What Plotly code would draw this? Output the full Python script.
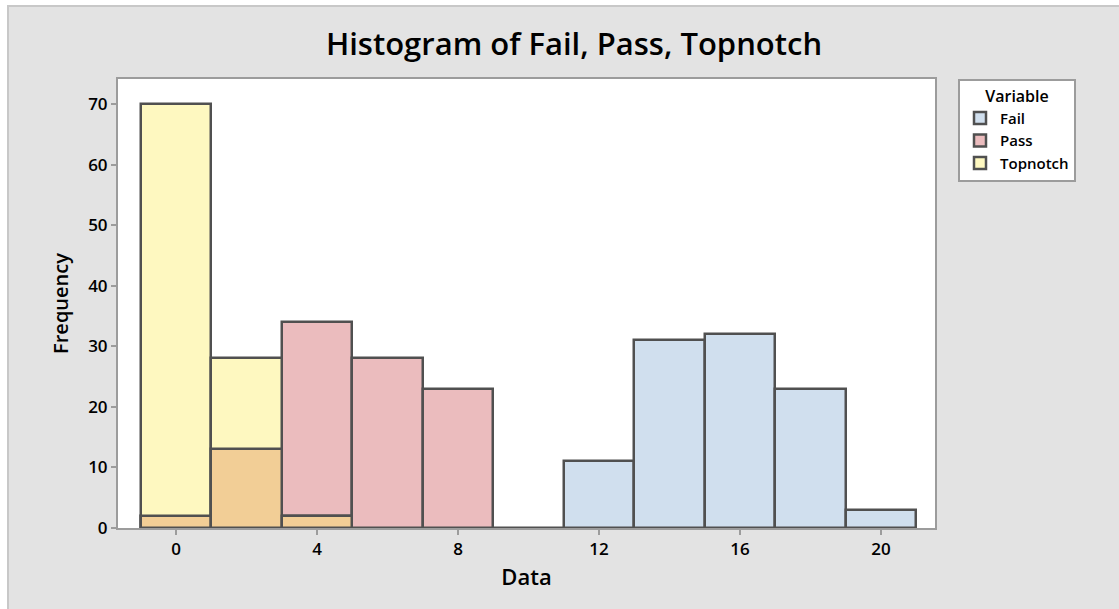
import plotly.graph_objects as go

# Bin centers (bin width 2)
bins = [0, 2, 4, 6, 8, 10, 12, 14, 16, 18, 20]
fail = [None, None, None, None, None, 0, 11, 31, 32, 23, 3]
pass_ = [2, 13, 34, 28, 23, None, None, None, None, None, None]
topnotch = [70, 28, 2, None, None, None, None, None, None, None, None]

x_ticks = [0, 4, 8, 12, 16, 20]
y_ticks = [0, 10, 20, 30, 40, 50, 60, 70]

col_fail = "#d0dfee"
col_pass = "#ebbcbe"
col_top = "#fef8c0"
col_overlap = "#f2ce96"
edge = "#505050"

# overlap of Pass and Topnotch (drawn in blended colour)
overlap = [min(p, t) if (p is not None and t is not None) else None for p, t in zip(pass_, topnotch)]

fig = go.Figure()
common = dict(width=2, marker_line_color=edge, marker_line_width=2.5)
fig.add_trace(go.Bar(x=bins, y=fail, name="Fail", marker_color=col_fail, **common))
fig.add_trace(go.Bar(x=bins, y=pass_, name="Pass", marker_color=col_pass, **common))
fig.add_trace(go.Bar(x=bins, y=topnotch, name="Topnotch", marker_color=col_top, **common))
fig.add_trace(go.Bar(x=bins, y=overlap, name="overlap", marker_color=col_overlap,
                     showlegend=False, **common))

L, T, R, B = 118, 79, 184, 81
W, H = 1119, 609
pw, ph = W - L - R, H - T - B
def px(xp):
    return (xp - L) / pw
def py(yp):
    return (H - B - yp) / ph

shapes = [
    dict(type="rect", xref="paper", yref="paper", x0=-0.3, x1=px(7), y0=-0.5, y1=1.5,
         fillcolor="white", line_width=0, layer="below"),
    dict(type="rect", xref="paper", yref="paper", x0=-0.3, x1=1.5, y0=py(5), y1=1.5,
         fillcolor="white", line_width=0, layer="below"),
    dict(type="rect", xref="paper", yref="paper", x0=px(8), x1=1.5, y0=-0.5, y1=py(6),
         fillcolor="rgba(0,0,0,0)", line=dict(color="#c8c8c8", width=2), layer="below"),
]

font_family = "Open Sans"
axis_common = dict(showline=True, mirror=True, linecolor="#9c9c9c", linewidth=2,
                   ticks="outside", ticklen=5, tickwidth=2, tickcolor="#9c9c9c",
                   showgrid=False, zeroline=False,
                   tickfont=dict(family=font_family, size=17, color="black", weight=600))

fig.update_layout(
    width=W, height=H,
    margin=dict(l=L, r=R, t=T, b=B, autoexpand=False),
    paper_bgcolor="#e3e3e3", plot_bgcolor="white",
    barmode="overlay",
    bargap=0,
    shapes=shapes,
    title=dict(text="Histogram of Fail, Pass, Topnotch", x=574 / W, xanchor="center",
               y=1 - 44 / H, yanchor="middle",
               font=dict(family=font_family, size=31, color="black", weight=600)),
    xaxis=dict(range=[-1.645, 21.53], tickvals=x_ticks,
               title=dict(text="Data", font=dict(family=font_family, size=22, color="black", weight=600),
                          standoff=10),
               **axis_common),
    yaxis=dict(range=[0, 74.13], tickvals=y_ticks,
               title=dict(text="Frequency", font=dict(family=font_family, size=20, color="black", weight=600),
                          standoff=14),
               **axis_common),
    legend=dict(x=px(958), y=1.0, xanchor="left", yanchor="top",
                bgcolor="white", bordercolor="#9c9c9c", borderwidth=2,
                title=dict(text="Variable", side="top center",
                           font=dict(family=font_family, size=16, color="black", weight=600)),
                font=dict(family=font_family, size=15, color="black", weight=600),
                tracegroupgap=0, itemwidth=30),
    showlegend=True,
)

fig.write_html("out.html", config={"displayModeBar": False},
               post_script="document.body.style.margin='0px';")
